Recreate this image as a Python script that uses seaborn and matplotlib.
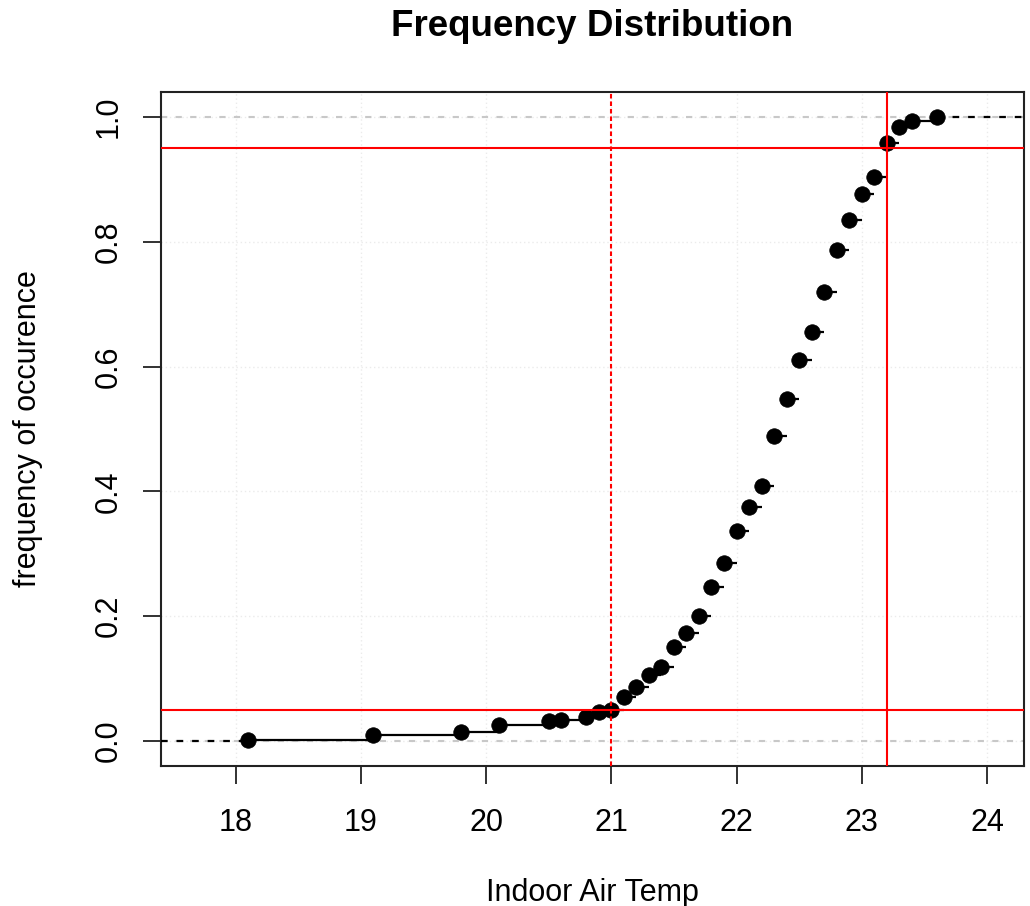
import matplotlib
matplotlib.use("Agg")
import matplotlib.pyplot as plt
import seaborn as sns
import numpy as np
import pandas as pd

# ---- data ----
temps = [18.1, 19.1, 19.8, 20.1, 20.5, 20.6, 20.8, 20.9, 21.0, 21.1, 21.2, 21.3,
         21.4, 21.5, 21.6, 21.7, 21.8, 21.9, 22.0, 22.1, 22.2, 22.3, 22.4, 22.5,
         22.6, 22.7, 22.8, 22.9, 23.0, 23.1, 23.2, 23.3, 23.4, 23.6]
cum_freq = [0.002, 0.009, 0.014, 0.026, 0.032, 0.034, 0.039, 0.047, 0.050, 0.071,
            0.086, 0.106, 0.118, 0.150, 0.173, 0.201, 0.247, 0.286, 0.336, 0.375,
            0.409, 0.489, 0.548, 0.611, 0.656, 0.719, 0.787, 0.835, 0.876, 0.904,
            0.958, 0.984, 0.993, 1.000]
x_ticks = [18, 19, 20, 21, 22, 23, 24]
y_ticks = [0.0, 0.2, 0.4, 0.6, 0.8, 1.0]
y_tick_labels = ["0.0", "0.2", "0.4", "0.6", "0.8", "1.0"]
q_low_temp = 21.0
q_high_temp = 23.2
q_low = 0.05
q_high = 0.95
title = "Frequency Distribution"
xlabel = "Indoor Air Temp"
ylabel = "frequency of occurence"

df = pd.DataFrame({"temp": temps, "F": cum_freq})

sns.set_theme(style="white")
plt.rcParams["font.family"] = ["Liberation Sans", "DejaVu Sans"]

fig = plt.figure(figsize=(10.30, 9.06), dpi=100)
ax = fig.add_axes([161 / 1030, 1 - 766 / 906, 863 / 1030, 674 / 906])

xlim = (17.405, 24.295)
ax.set_xlim(*xlim)
ax.set_ylim(-0.04, 1.04)

# faint dotted grid at ticks
for xt in x_ticks:
    ax.axvline(xt, color="#ebebeb", lw=1.0, ls=(0, (1, 2)), zorder=0)
for yt in y_ticks:
    ax.axhline(yt, color="#ebebeb", lw=1.0, ls=(0, (1, 2)), zorder=0)

# gray dashed 0/1 lines
for yv in (0.0, 1.0):
    ax.axhline(yv, color="#c8c8c8", lw=1.5, ls=(0, (3, 4)), zorder=1)

# step segments (no verticals)
xs = df["temp"].to_numpy()
fs = df["F"].to_numpy()
ax.hlines(fs[:-1], xs[:-1], xs[1:], color="black", lw=1.6, zorder=3)
# extension segments
ax.hlines([0.0], [xlim[0]], [xs[0]], color="black", lw=1.6, linestyles=[(0, (3, 4))], zorder=3)
ax.hlines([1.0], [xs[-1]], [xlim[1]], color="black", lw=1.6, linestyles=[(0, (3, 4))], zorder=3)

sns.scatterplot(data=df, x="temp", y="F", ax=ax, color="black", s=125,
                edgecolor="black", linewidth=0.5, zorder=4, legend=False)

# quantile reference lines
ax.axhline(q_low, color="red", lw=1.5, zorder=5)
ax.axhline(q_high, color="red", lw=1.5, zorder=5)
ax.axvline(q_high_temp, color="red", lw=1.5, zorder=5)
ax.axvline(q_low_temp, color="red", lw=1.5, ls=(0, (2.2, 1.4)), zorder=5)

# axes styling
for sp in ax.spines.values():
    sp.set_visible(True)
    sp.set_color("#222222")
    sp.set_linewidth(1.5)

ax.set_xticks(x_ticks)
ax.set_xticklabels([str(t) for t in x_ticks])
ax.set_yticks(y_ticks)
ax.set_yticklabels(y_tick_labels, rotation=90, va="center")
ax.tick_params(axis="both", which="major", direction="out", length=13, width=1.3,
               color="#222222", labelsize=22, labelcolor="black",
               bottom=True, left=True)
ax.tick_params(axis="x", pad=17)
ax.tick_params(axis="y", pad=14)

ax.set_xlabel(xlabel, fontsize=22, color="black")
ax.set_ylabel(ylabel, fontsize=22, color="black")
ax.xaxis.label.set_va("center")
ax.xaxis.set_label_coords(0.5, -0.188)
ax.yaxis.label.set_va("center")
ax.yaxis.label.set_ha("center")
ax.yaxis.set_label_coords(-0.154, 0.5)

fig.text(592 / 1030, 1 - 26 / 906, title, fontsize=26.5, fontweight="bold",
         color="black", ha="center", va="center")

fig.savefig("out.png", dpi=100)
